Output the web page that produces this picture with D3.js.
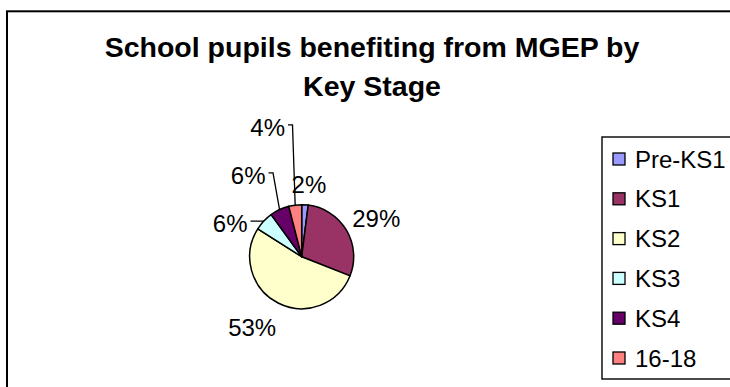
<!DOCTYPE html>
<html>
<head>
<meta charset="utf-8">
<script src="https://cdn.jsdelivr.net/npm/d3@7"></script>
<style>
  html, body { margin: 0; padding: 0; background: #fff; }
  svg { display: block; }
  text { font-family: "Liberation Sans", Arial, sans-serif; fill: #000; }
</style>
</head>
<body>
<svg id="chart" width="730" height="387"></svg>
<script>
// Share of pupils by Key Stage (percent)
const categories = ["Pre-KS1", "KS1", "KS2", "KS3", "KS4", "16-18"];
const shares = [2, 29, 53, 6, 6, 4];
const sliceColors = ["#9999FF", "#993366", "#FFFFCC", "#CCFFFF", "#660066", "#FF8080"];
const titleLines = ["School pupils benefiting from MGEP by", "Key Stage"];

// Label placement around the pie: angular nudge (deg), distance as multiple of radius,
// and whether a leader line connects the label to its slice.
const labelPlacement = [
  { da: 2.1, k: 1.40, leader: false },
  { da: 3.6, k: 1.61, leader: false },
  { da: 8.0, k: 1.66, leader: false },
  { da: -18, k: 1.52, leader: true },
  { da: -8,  k: 1.88, leader: true },
  { da: -7.5, k: 2.58, leader: true }
];

const svg = d3.select("#chart");
const W = 730, H = 387;

// chart area frame (runs past the right and bottom edges)
svg.append("rect")
  .attr("x", 7).attr("y", 11.3)
  .attr("width", W + 20).attr("height", H + 20)
  .attr("fill", "#fff").attr("stroke", "#000").attr("stroke-width", 2);

// title
const title = svg.append("text")
  .attr("text-anchor", "middle")
  .style("font-weight", "bold")
  .style("font-size", "28.5px");
titleLines.forEach((t, i) => {
  title.append("tspan").attr("x", 372).attr("y", 57 + i * 39).text(t);
});

// pie
const cx = 301.7, cy = 256.7, R = 52;
const data = categories.map((c, i) => ({ cat: c, v: shares[i], color: sliceColors[i] }));
const pie = d3.pie().sort(null).value(d => d.v).startAngle(0).endAngle(2 * Math.PI);
const arcs = pie(data);
const arc = d3.arc().innerRadius(0).outerRadius(R);

const g = svg.append("g").attr("transform", `translate(${cx},${cy})`);
g.selectAll("path.slice")
  .data(arcs)
  .join("path")
  .attr("class", "slice")
  .attr("d", arc)
  .attr("fill", d => d.data.color)
  .attr("stroke", "#000")
  .attr("stroke-width", 1.5)
  .attr("stroke-linejoin", "round");

// data labels
const fs = 24;
const polar = (a, r) => [r * Math.sin(a), -r * Math.cos(a)];
arcs.forEach((d, i) => {
  const p = labelPlacement[i];
  const mid = (d.startAngle + d.endAngle) / 2;
  const [lx, ly] = polar(mid + p.da * Math.PI / 180, p.k * R);
  const label = d.data.v + "%";
  const t = g.append("text")
    .attr("x", lx).attr("y", ly)
    .attr("dy", "0.36em")
    .attr("text-anchor", "middle")
    .style("font-size", fs + "px")
    .text(label);
  if (p.leader) {
    const w = t.node().getComputedTextLength();
    const sx = lx + w / 2 + 3, sy = ly - 2;
    const [ex, ey] = polar(mid, R);
    g.append("path")
      .attr("d", d3.line()([[sx, sy], [sx + 4.5, sy], [ex, ey]]))
      .attr("fill", "none")
      .attr("stroke", "#000")
      .attr("stroke-width", 1.3);
  }
});

// legend
const lg = svg.append("g");
lg.append("rect")
  .attr("x", 602).attr("y", 137)
  .attr("width", 160).attr("height", 242)
  .attr("fill", "#fff").attr("stroke", "#000").attr("stroke-width", 1.4);

const rowY = d3.scalePoint().domain(categories).range([159, 358]);
const items = lg.selectAll("g.item").data(data).join("g").attr("class", "item")
  .attr("transform", d => `translate(0,${rowY(d.cat)})`);
items.append("rect")
  .attr("x", 613).attr("y", -6)
  .attr("width", 12).attr("height", 12)
  .attr("fill", d => d.color)
  .attr("stroke", "#000").attr("stroke-width", 1.3);
items.append("text")
  .attr("x", 635).attr("y", 0).attr("dy", "0.36em")
  .style("font-size", fs + "px")
  .text(d => d.cat);
</script>
</body>
</html>
